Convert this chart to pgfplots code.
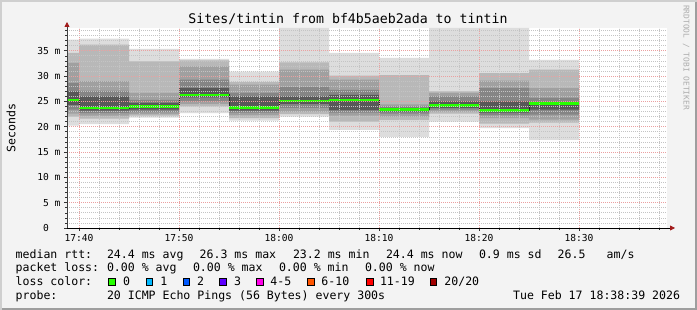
\documentclass[border=0pt]{standalone}
\usepackage{pgfplots}
\pgfplotsset{compat=1.18}
\usepackage{pgfplotstable}
\usepgfplotslibrary{fillbetween}
\usetikzlibrary{arrows.meta}
\usepackage{fontspec}
\newfontfamily\mono{DejaVu Sans Mono}
\definecolor{bg}{HTML}{F3F3F3}
\definecolor{shadea}{HTML}{CFCFCF}
\definecolor{shadeb}{HTML}{9E9E9E}
\definecolor{Lone}{HTML}{DDDDDD}
\definecolor{Ltwo}{HTML}{B8B8B8}
\definecolor{Lthree}{HTML}{A0A0A0}
\definecolor{Lfour}{HTML}{858585}
\definecolor{Lfive}{HTML}{585858}
\definecolor{lgreen}{HTML}{26FF00}
\definecolor{lcone}{HTML}{00B8FF}
\definecolor{lctwo}{HTML}{0059FF}
\definecolor{lcthree}{HTML}{5E00FF}
\definecolor{lcfour}{HTML}{FF00E8}
\definecolor{lcfive}{HTML}{FF5500}
\definecolor{lcsix}{HTML}{FF0000}
\definecolor{lcseven}{HTML}{A10000}
\definecolor{mgrid}{HTML}{EBA0A0}
\definecolor{mingrid}{HTML}{C4C4C4}
\definecolor{arrowred}{HTML}{A11A1A}
\definecolor{watermark}{HTML}{ADADAD}

% minutes after 17:40; t1..t5 = upper edges of smoke layers (outer..inner),
% m = median rtt (ms), b5..b1 = lower edges (inner..outer)
\pgfplotstableread{
x    t1   t2   t3   t4   t5   m    b5   b4   b3   b2   b1
-1.2 37.2 34.6 32.6 28.6 27.0 25.3 24.3 23.4 22.6 22.0 20.2
0    37.4 36.2 29.0 27.1 26.0 23.7 23.2 22.7 22.2 21.6 20.5
5    35.4 32.9 26.7 25.3 24.7 24.0 23.4 22.9 22.5 22.2 21.8
10   33.4 33.1 31.9 29.3 27.6 26.3 25.8 25.0 24.5 24.0 22.7
15   30.9 28.8 28.3 26.7 26.0 23.8 23.2 22.8 22.3 21.7 21.2
20   39.5 32.7 31.3 27.8 26.0 25.1 24.5 23.7 23.0 22.5 22.0
25   34.6 30.1 29.3 27.3 26.3 25.3 23.3 22.8 22.2 21.0 19.4
30   33.6 30.2 24.4 24.0 23.7 23.4 23.0 22.6 22.0 21.3 18.0
35   39.5 27.0 26.7 26.0 25.0 24.2 23.7 23.4 23.0 22.6 21.0
40   39.5 30.6 29.1 27.6 25.0 23.2 22.8 22.3 21.7 20.6 19.7
45   33.2 31.3 27.6 25.7 24.9 24.6 23.4 22.4 21.4 20.8 17.4
50   33.2 31.3 27.6 25.7 24.9 24.6 23.4 22.4 21.4 20.8 17.4
}\smoke

\newcommand{\lf}{\mono\fontsize{11.55}{13}\selectfont}

\begin{document}
\pagecolor{bg}%
\begin{tikzpicture}
\begin{scope}[x=1pt,y=1pt]
\useasboundingbox (0,0) rectangle (697,310);
\end{scope}
\begin{axis}[
  at={(67pt,82pt)}, anchor=south west, scale only axis,
  width=600pt, height=200pt,
  xmin=-1.2, xmax=58.8, ymin=0, ymax=39.5,
  axis lines=left,
  axis on top,
  axis background/.style={fill=white},
  xtick={0,10,20,30,40,50},
  xticklabels={17:40,17:50,18:00,18:10,18:20,18:30},
  minor xtick={0,2,...,58},
  ytick={0,5,10,15,20,25,30,35},
  yticklabels={0\hphantom{ m},5 m,10 m,15 m,20 m,25 m,30 m,35 m},
  minor ytick={0,1,...,39},
  grid=both,
  major grid style={draw=mgrid, dash pattern=on 1pt off 1pt, line width=0.7pt},
  minor grid style={draw=mingrid, dash pattern=on 1pt off 1pt, line width=0.7pt},
  tick align=outside,
  major tick length=3pt, minor tick length=2pt,
  tick style={draw=black!80, line width=0.6pt},
  ticklabel style={font=\mono\fontsize{9.6}{10}\selectfont},
  x axis line style={draw=black, line width=0.8pt, -{Triangle[length=5pt,width=5pt,color=arrowred]}, shorten >=-8pt},
  y axis line style={draw=black!75, line width=0.8pt, -{Triangle[length=5pt,width=5pt,color=arrowred]}, shorten >=-6pt},
]
\addplot[name path=tA, const plot, draw=none, forget plot] table[x=x,y=t1]{\smoke};
\addplot[name path=bA, const plot, draw=none, forget plot] table[x=x,y=b1]{\smoke};
\addplot[fill=Lone, draw=none, forget plot] fill between[of=tA and bA];
\addplot[name path=tB, const plot, draw=none, forget plot] table[x=x,y=t2]{\smoke};
\addplot[name path=bB, const plot, draw=none, forget plot] table[x=x,y=b2]{\smoke};
\addplot[fill=Ltwo, draw=none, forget plot] fill between[of=tB and bB];
\addplot[name path=tC, const plot, draw=none, forget plot] table[x=x,y=t3]{\smoke};
\addplot[name path=bC, const plot, draw=none, forget plot] table[x=x,y=b3]{\smoke};
\addplot[fill=Lthree, draw=none, forget plot] fill between[of=tC and bC];
\addplot[name path=tD, const plot, draw=none, forget plot] table[x=x,y=t4]{\smoke};
\addplot[name path=bD, const plot, draw=none, forget plot] table[x=x,y=b4]{\smoke};
\addplot[fill=Lfour, draw=none, forget plot] fill between[of=tD and bD];
\addplot[name path=tE, const plot, draw=none, forget plot] table[x=x,y=t5]{\smoke};
\addplot[name path=bE, const plot, draw=none, forget plot] table[x=x,y=b5]{\smoke};
\addplot[fill=Lfive, draw=none, forget plot] fill between[of=tE and bE];
\addplot[const plot, draw=black!85, line width=0.8pt, forget plot] table[x=x,y=m]{\smoke};
\addplot[jump mark left, draw=lgreen, line width=2.3pt, mark=none, forget plot] table[x=x,y=m]{\smoke};
\end{axis}
\begin{scope}[x=1pt,y=1pt]
\fill[shadeb] (0,0) rectangle (697,2);
\fill[shadeb] (695,0) rectangle (697,310);
\fill[shadea] (0,308) rectangle (697,310);
\fill[shadea] (0,0) rectangle (2,308);
\node[anchor=base, inner sep=0, font=\mono\fontsize{13.25}{15}\selectfont] at (348,286.5) {Sites/tintin from bf4b5aeb2ada to tintin};
\node[rotate=90, inner sep=0, font=\lf] at (11,182.3) {Seconds};
\node[rotate=-90, inner sep=0, text=watermark, font=\mono\fontsize{7.9}{9}\selectfont] at (686.3,252.5) {RRDTOOL / TOBI OETIKER};
% row 1
\node[anchor=base west, inner sep=0, font=\lf] at (15.5,51.7) {median rtt:};
\node[anchor=base west, inner sep=0, font=\lf] at (106.8,51.7) {24.4 ms avg};
\node[anchor=base west, inner sep=0, font=\lf] at (199.5,51.7) {26.3 ms max};
\node[anchor=base west, inner sep=0, font=\lf] at (292.8,51.7) {23.2 ms min};
\node[anchor=base west, inner sep=0, font=\lf] at (385.8,51.7) {24.4 ms now};
\node[anchor=base west, inner sep=0, font=\lf] at (478.8,51.7) {0.9 ms sd};
\node[anchor=base west, inner sep=0, font=\lf] at (557.5,51.7) {26.5};
\node[anchor=base west, inner sep=0, font=\lf] at (606.5,51.7) {am/s};
% row 2
\node[anchor=base west, inner sep=0, font=\lf] at (15.5,38) {packet loss:};
\node[anchor=base west, inner sep=0, font=\lf] at (106.8,38) {0.00 \% avg};
\node[anchor=base west, inner sep=0, font=\lf] at (192.8,38) {0.00 \% max};
\node[anchor=base west, inner sep=0, font=\lf] at (278.8,38) {0.00 \% min};
\node[anchor=base west, inner sep=0, font=\lf] at (364.8,38) {0.00 \% now};
% row 3
\node[anchor=base west, inner sep=0, font=\lf] at (15.5,24) {loss color:};
\filldraw[fill=lgreen, draw=black, line width=0.9pt] (108.8,24.5) rectangle (115.5,31.8);
\node[anchor=base west, inner sep=0, font=\lf] at (122.8,24) {0};
\filldraw[fill=lcone, draw=black, line width=0.9pt] (146.2,24.5) rectangle (152.9,31.8);
\node[anchor=base west, inner sep=0, font=\lf] at (160.2,24) {1};
\filldraw[fill=lctwo, draw=black, line width=0.9pt] (183.2,24.5) rectangle (189.9,31.8);
\node[anchor=base west, inner sep=0, font=\lf] at (196.8,24) {2};
\filldraw[fill=lcthree, draw=black, line width=0.9pt] (219.8,24.5) rectangle (226.5,31.8);
\node[anchor=base west, inner sep=0, font=\lf] at (233.8,24) {3};
\filldraw[fill=lcfour, draw=black, line width=0.9pt] (256.5,24.5) rectangle (263.2,31.8);
\node[anchor=base west, inner sep=0, font=\lf] at (270.2,24) {4-5};
\filldraw[fill=lcfive, draw=black, line width=0.9pt] (307.8,24.5) rectangle (314.5,31.8);
\node[anchor=base west, inner sep=0, font=\lf] at (321.2,24) {6-10};
\filldraw[fill=lcsix, draw=black, line width=0.9pt] (366.5,24.5) rectangle (373.2,31.8);
\node[anchor=base west, inner sep=0, font=\lf] at (379.8,24) {11-19};
\filldraw[fill=lcseven, draw=black, line width=0.9pt] (430.2,24.5) rectangle (436.9,31.8);
\node[anchor=base west, inner sep=0, font=\lf] at (444.2,24) {20/20};
% row 4
\node[anchor=base west, inner sep=0, font=\lf] at (15.5,10) {probe:};
\node[anchor=base west, inner sep=0, font=\lf] at (106.8,10) {20 ICMP Echo Pings (56 Bytes) every 300s};
\node[anchor=base east, inner sep=0, font=\lf] at (680.2,10) {Tue Feb 17 18:38:39 2026};
\end{scope}
\end{tikzpicture}
\end{document}
